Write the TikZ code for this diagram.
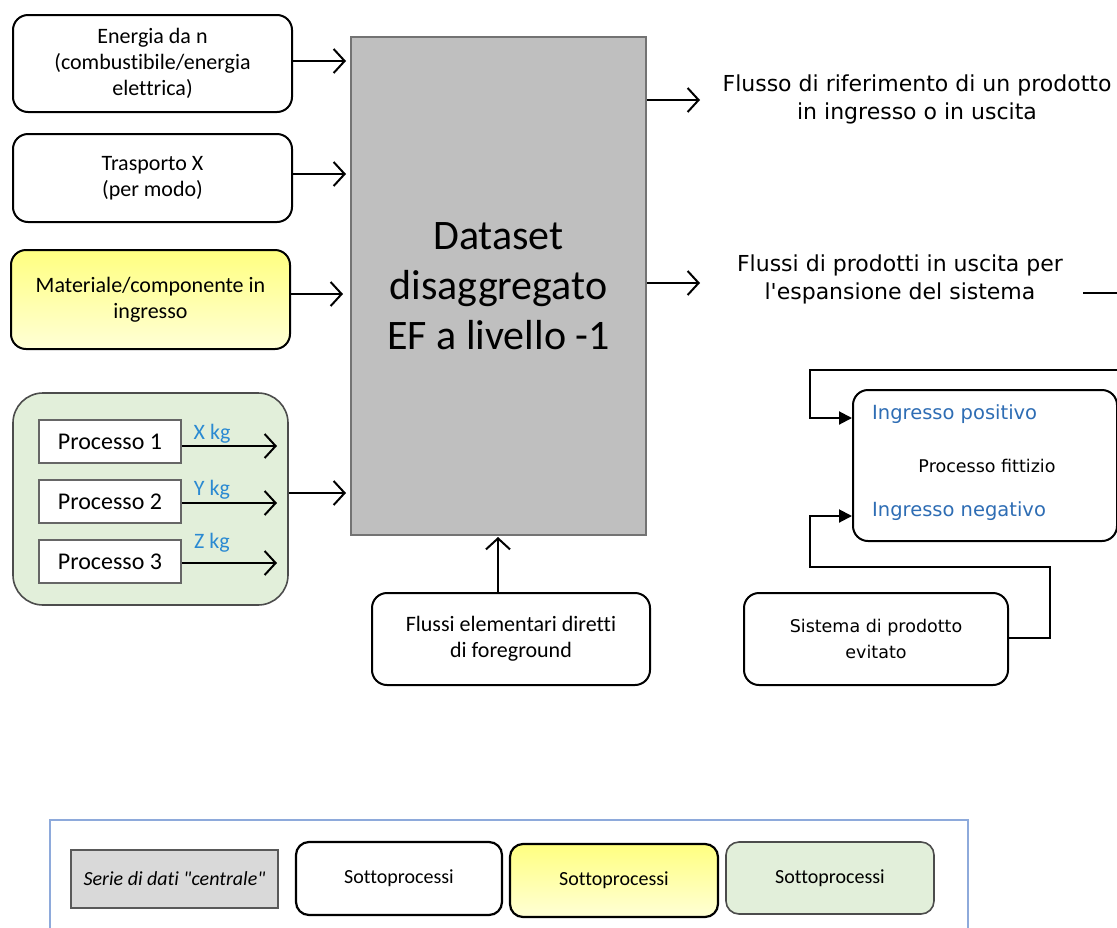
\documentclass[tikz,border=0pt]{standalone}
\usepackage{fontspec}
\setmainfont{Carlito}[Ligatures={NoCommon}]
\newfontfamily\carlplain{Carlito}[Ligatures={NoCommon}]
\newfontfamily\verd{DejaVu Sans}
\usetikzlibrary{arrows.meta,positioning}
\definecolor{maingray}{HTML}{BFBFBF}
\definecolor{leggray}{HTML}{D9D9D9}
\definecolor{grn}{HTML}{E2EFDA}
\definecolor{yeltop}{HTML}{FFFF80}
\definecolor{yelbot}{HTML}{FFFFD6}
\definecolor{kgblue}{HTML}{2B8AD2}
\definecolor{inblue}{HTML}{2E6DB4}
\definecolor{frameblue}{HTML}{8EAADB}
\tikzset{
  rbox/.style={draw=black, line width=2pt, rounded corners=15pt, fill=white, align=center, inner sep=0pt},
  ybox/.style={rbox, top color=yeltop, bottom color=yelbot},
  pbox/.style={draw=black!60, line width=1.6pt, fill=white, inner sep=0pt, font=\fontsize{24}{26}\selectfont},
  txt/.style={font=\fontsize{22}{26}\selectfont},
  vtxt/.style={font=\verd\fontsize{22}{28}\selectfont, align=center},
  oarr/.style={line width=2pt, -{Straight Barb[length=11pt,width=24pt,line width=2pt]}},
  farr/.style={line width=2pt, -{Triangle[length=13pt,width=13pt]}},
  kg/.style={text=kgblue, font=\fontsize{22}{24}\selectfont, inner sep=0pt},
  legtxt/.style={font=\fontsize{20}{22}\selectfont}
}
\begin{document}
\begin{tikzpicture}[x=1pt,y=-1pt]
\clip (0,0) rectangle (1117,927);
\fill[white] (0,0) rectangle (1117,927);

% main box
\node[draw=black!55, line width=1.6pt, fill=maingray, minimum width=295pt, minimum height=498pt, inner sep=0pt,
      align=center, font=\fontsize{42}{50}\selectfont] (main) at (498.5,286) {Dataset\\disaggregato\\EF a livello -1};

% left input boxes
\node[rbox, txt, minimum width=279pt, minimum height=97pt] (en) at (152.5,63.5) {Energia da n\\(combustibile/energia\\elettrica)};
\node[rbox, txt, minimum width=279pt, minimum height=88pt] (tr) at (152.5,178) {Trasporto X\\(per modo)};
\node[ybox, txt, minimum width=279pt, minimum height=99pt] (mat) at (150.5,299.5) {Materiale/componente in\\ingresso};

% green group
\node[draw=black!70, line width=1.6pt, rounded corners=30pt, fill=grn, minimum width=275pt, minimum height=212pt] (grp) at (150.5,499) {};
\node[pbox, minimum width=142pt, minimum height=43pt] (p1) at (110,441.5) {Processo 1};
\node[pbox, minimum width=142pt, minimum height=43pt] (p2) at (110,501.5) {Processo 2};
\node[pbox, minimum width=142pt, minimum height=43pt] (p3) at (110,561.5) {Processo 3};
\coordinate (q1) at (277,446);
\coordinate (q2) at (277,503);
\coordinate (q3) at (277,563);
\draw[oarr] (p1.east |- q1) -- (q1);
\draw[oarr] (p2.east |- q2) -- (q2);
\draw[oarr] (p3.east |- q3) -- (q3);
\node[kg] (xkg) at (212,434) {X kg};
\node[kg] (ykg) at (212,490) {Y kg};
\node[kg] (zkg) at (212,543) {Z kg};

% arrows into main
\coordinate (t1) at (346,61);
\coordinate (t2) at (346,174);
\coordinate (t3) at (343,294);
\coordinate (t4) at (346,493);
\draw[oarr] (en.east |- t1) -- (t1);
\draw[oarr] (tr.east |- t2) -- (t2);
\draw[oarr] (mat.east |- t3) -- (t3);
\draw[oarr] (grp.east |- t4) -- (t4);

% bottom input
\node[rbox, txt, minimum width=278pt, minimum height=92pt] (fe) at (511,639) {Flussi elementari diretti\\di foreground};
\coordinate (tb) at (498,537);
\draw[oarr] (fe.north -| tb) -- (tb);

% right outputs
\node[vtxt] (rif) at (917,99) {Flusso di riferimento di un prodotto\\in ingresso o in uscita};
\node[vtxt] (esp) at (900,279) {Flussi di prodotti in uscita per\\l'espansione del sistema};
\coordinate (a1) at (700,100);
\coordinate (a2) at (700,283);
\draw[oarr] (main.east |- a1) -- (a1);
\draw[oarr] (main.east |- a2) -- (a2);
\coordinate (espend) at (1083,293);
\coordinate (espout) at (1120,293);
\draw[line width=2pt] (espend) -- (espout);

% fictitious process
\node[rbox, minimum width=264pt, minimum height=151pt] (fit) at (985,465.5) {};
\node[font=\verd\fontsize{17.5}{20}\selectfont, inner sep=0pt] (pf) at (987,466) {Processo fittizio};
\node[font=\verd\fontsize{19.5}{22}\selectfont, text=inblue, anchor=west, inner sep=0pt] (ipos) at (872,414) {Ingresso positivo};
\node[font=\verd\fontsize{19.5}{22}\selectfont, text=inblue, anchor=west, inner sep=0pt] (ineg) at (872,511) {Ingresso negativo};
\coordinate (loopin) at (1120,370);
\draw[farr] (loopin) -- (810,370) -- (810,418) -- (fit.west |- 0,418);

\node[rbox, font=\verd\fontsize{17.5}{26}\selectfont, minimum width=264pt, minimum height=92pt] (sis) at (876,639) {Sistema di prodotto\\evitato};
\draw[farr] (sis.east |- 0,638) -- (1050,638) -- (1050,567) -- (810,567) -- (810,516) -- (fit.west |- 0,516);

% legend
\draw[draw=frameblue, line width=1.4pt] (50,940) -- (50,820) -- (968,820) -- (968,940);
\node[draw=black!65, line width=1.4pt, fill=leggray, minimum width=207pt, minimum height=58pt, font=\carlplain\fontsize{20}{22}\selectfont\itshape] (l1) at (174.5,879) {Serie di dati "centrale"};
\node[rbox, line width=2.2pt, rounded corners=13pt, minimum width=206pt, minimum height=73pt, legtxt] (l2) at (399,878.5) {Sottoprocessi};
\node[ybox, line width=2.2pt, rounded corners=13pt, minimum width=208pt, minimum height=73pt, legtxt] (l3) at (614,880.5) {Sottoprocessi};
\node[draw=black!70, line width=1.6pt, rounded corners=13pt, fill=grn, minimum width=208pt, minimum height=72pt, legtxt] (l4) at (830,878) {Sottoprocessi};
\end{tikzpicture}
\end{document}
